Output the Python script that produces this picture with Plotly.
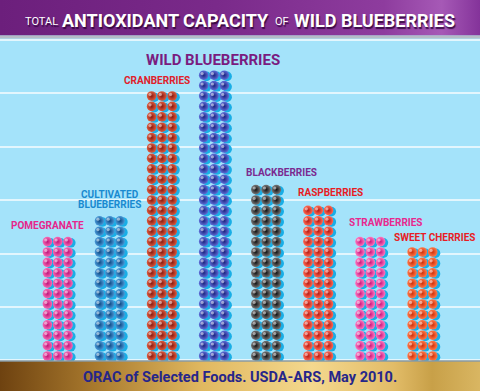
import plotly.graph_objects as go

# ---------------- data ----------------
FRUITS = ["POMEGRANATE", "CULTIVATED BLUEBERRIES", "CRANBERRIES", "WILD BLUEBERRIES",
          "BLACKBERRIES", "RASPBERRIES", "STRAWBERRIES", "SWEET CHERRIES"]
ROWS = [12, 14, 26, 28, 17, 15, 12, 11]          # rows of berries (3 per row)
BALL_LIGHT = ["#f56ab5", "#4a9ad8", "#dc5a3e", "#5f6ed8", "#777777", "#ff6a55", "#ff78c0", "#ff7a4a"]
BALL_DARK = ["#c0157a", "#0f4a85", "#8a1a10", "#1c2480", "#111111", "#b81a12", "#c8197e", "#d0300a"]
LABEL_COLORS = ["#e6268c", "#1a8ad0", "#e0202a", "#7a1c80", "#7b2a90", "#e81c24", "#e8288e", "#e81c24"]
LABEL_LINES = [["POMEGRANATE"], ["CULTIVATED", "BLUEBERRIES"], ["CRANBERRIES"], ["WILD BLUEBERRIES"],
               ["BLACKBERRIES"], ["RASPBERRIES"], ["STRAWBERRIES"], ["SWEET CHERRIES"]]
TITLE_PARTS = ["TOTAL", "ANTIOXIDANT CAPACITY", "OF", "WILD BLUEBERRIES"]
SOURCE = "ORAC of Selected Foods. USDA-ARS, May 2010."

# ---------------- layout constants (pixels) ----------------
W, H = 480, 391
COL_PX, ROW_PX = 52.1, 10.4
X0_PX, Y0_PX = 57.7, 356.0        # centre of first column / bottom row (from top)
BALL_GAP_PX = 10.3
BALL_SIZE = 9.6
LABEL_DX = [-10, 0, -5, -1, 15, 12, 16, 12]
LABEL_DY = [16, 16, 16, 15, 17, 18, 19, 15]
LABEL_SIZE = [10, 10, 10, 15, 10, 10, 10, 10]
TITLE_CX = [41.5, 165.5, 281.5, 374]
TITLE_SIZE = [11, 18, 11, 18]
FONT = "Roboto, Liberation Sans, sans-serif"

gx = BALL_GAP_PX / COL_PX
px_x = 1.0 / COL_PX
px_y = 1.0 / ROW_PX

fig = go.Figure()

# shadows, balls, highlights
sx, sy, bx, by, bc, bg, hx, hy = [], [], [], [], [], [], [], []
for i, n in enumerate(ROWS):
    for r in range(n):
        for c in (-1, 0, 1):
            x = i + c * gx
            sx.append(x + 2.8 * px_x); sy.append(r - 1.2 * px_y)
            bx.append(x); by.append(r)
            bc.append(BALL_LIGHT[i]); bg.append(BALL_DARK[i])
            hx.append(x - 1.6 * px_x); hy.append(r + 1.6 * px_y)

fig.add_trace(go.Scatter(x=sx, y=sy, mode="markers", hoverinfo="skip",
                         marker=dict(size=BALL_SIZE, color="#19aee6", line=dict(width=0))))
fig.add_trace(go.Scatter(x=bx, y=by, mode="markers", hoverinfo="skip",
                         marker=dict(size=BALL_SIZE, color=bc, line=dict(width=0),
                                     gradient=dict(type="radial", color=bg))))
fig.add_trace(go.Scatter(x=hx, y=hy, mode="markers", hoverinfo="skip",
                         marker=dict(size=3.2, color="rgba(255,255,255,0.5)", line=dict(width=0))))

# decorations on a pixel overlay axis
fig.add_trace(go.Scatter(x=[0, W, W, 0, 0], y=[0, 0, 35.5, 35.5, 0], xaxis="x2", yaxis="y2",
                         mode="lines", line=dict(width=0), fill="toself", hoverinfo="skip",
                         fillgradient=dict(type="horizontal",
                                           colorscale=[[0, "#6c1f7c"], [0.45, "#7a2a8a"],
                                                       [0.8, "#8e3c9e"], [0.92, "#a659b6"], [1, "#84339a"]])))
fig.add_trace(go.Scatter(x=[0, W, W, 0, 0], y=[35.5, 35.5, 38.5, 38.5, 35.5], xaxis="x2", yaxis="y2",
                         mode="lines", line=dict(width=0), fill="toself", fillcolor="#b4bcc6",
                         hoverinfo="skip"))
fig.add_trace(go.Scatter(x=[0, W, W, 0, 0], y=[361, 361, H, H, 361], xaxis="x2", yaxis="y2",
                         mode="lines", line=dict(width=0), fill="toself", hoverinfo="skip",
                         fillgradient=dict(type="horizontal",
                                           colorscale=[[0, "#6e4210"], [0.2, "#a97a2e"], [0.42, "#e0b860"],
                                                       [0.65, "#f4d88e"], [0.82, "#e2bc68"],
                                                       [0.9, "#c8a048"], [1, "#d9b662"]])))
fig.add_trace(go.Scatter(x=[0, W], y=[361, 361], xaxis="x2", yaxis="y2", mode="lines",
                         line=dict(width=1.5, color="#8a9aa2"), hoverinfo="skip"))

ann = []
# labels
for i, lines in enumerate(LABEL_LINES):
    top = ROWS[i] - 1
    if len(lines) == 1:
        ann.append(dict(x=i + LABEL_DX[i] * px_x, y=top + LABEL_DY[i] * px_y, xref="x", yref="y",
                        text="<b>%s</b>" % lines[0], showarrow=False, xanchor="center", yanchor="middle",
                        font=dict(family=FONT, size=LABEL_SIZE[i], color=LABEL_COLORS[i])))
    else:
        for k, t in enumerate(lines):
            ann.append(dict(x=i + LABEL_DX[i] * px_x, y=top + (26 - 10 * k) * px_y, xref="x", yref="y",
                            text="<b>%s</b>" % t, showarrow=False, xanchor="center", yanchor="middle",
                            font=dict(family=FONT, size=LABEL_SIZE[i], color=LABEL_COLORS[i])))

# title (white with dark shadow)
for k, part in enumerate(TITLE_PARTS):
    ann.append(dict(x=TITLE_CX[k] / W, y=1 - (20.5 if TITLE_SIZE[k] > 12 else 22) / H,
                    xref="paper", yref="paper", text="<b>%s</b>" % part if TITLE_SIZE[k] > 12 else part,
                    showarrow=False, xanchor="center", yanchor="middle",
                    font=dict(family=FONT, size=TITLE_SIZE[k], color="white",
                              shadow="1px 1.5px 1px rgba(40,0,50,0.8)")))

ann.append(dict(x=240 / W, y=1 - 377.5 / H, xref="paper", yref="paper", text="<b>%s</b>" % SOURCE,
                showarrow=False, xanchor="center", yanchor="middle",
                font=dict(family=FONT, size=14.5, color="#26268a")))

fig.update_layout(
    width=W, height=H, margin=dict(l=0, r=0, t=0, b=0),
    paper_bgcolor="#a4e3fa", plot_bgcolor="rgba(0,0,0,0)", showlegend=False,
    xaxis=dict(range=[-X0_PX / COL_PX, (W - X0_PX) / COL_PX], visible=False, fixedrange=True),
    yaxis=dict(range=[(Y0_PX - H) / ROW_PX, Y0_PX / ROW_PX], showgrid=True, gridcolor="#e3f6fd",
               gridwidth=2, tick0=-0.42, dtick=5.135, showticklabels=False, ticks="",
               zeroline=False, showline=False, fixedrange=True),
    xaxis2=dict(range=[0, W], overlaying="x", anchor="y2", visible=False, fixedrange=True),
    yaxis2=dict(range=[H, 0], overlaying="y", anchor="x2", visible=False, fixedrange=True),
    annotations=ann,
)

fig.write_html("out.html", config={"displayModeBar": False},
               post_script="document.body.style.margin='0';document.body.style.overflow='hidden';")
